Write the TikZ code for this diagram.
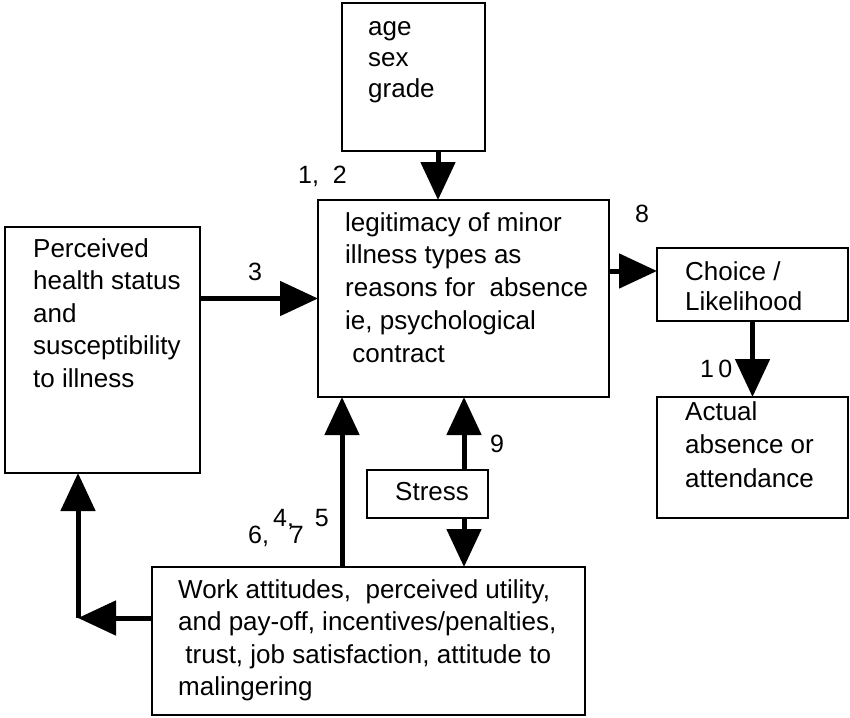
\documentclass[tikz,border=0pt]{standalone}
\usepackage{fontspec}
\setmainfont{Liberation Sans}
\usetikzlibrary{arrows.meta,calc}
\newcommand{\firstline}{\rule{0pt}{20pt}}
\begin{document}
\begin{tikzpicture}[x=1pt,y=-1pt,
  box/.style={draw, line width=2.2pt, inner sep=0pt, outer sep=0pt},
  txt/.style={anchor=north west, inner sep=0pt, align=left,
    font=\fontsize{26}{#1}\selectfont},
  txt/.default=32.5,
  num/.style={anchor=base west, inner sep=0pt, font=\fontsize{25}{30}\selectfont},
  link/.style={line width=5pt, -{Triangle[width=34pt,length=38pt]}}
]
\useasboundingbox (0,0) rectangle (850,717);

% boxes
\node[box, minimum width=143pt, minimum height=148pt] (top)    at (413.5,77)    {};
\node[box, minimum width=291pt, minimum height=197pt] (centre) at (463.5,298.5) {};
\node[box, minimum width=195pt, minimum height=246pt] (left)   at (102.5,350)   {};
\node[box, minimum width=191pt, minimum height=73pt]  (choice) at (752.5,284.5) {};
\node[box, minimum width=191pt, minimum height=121pt] (actual) at (752.5,457.5) {};
\node[box, minimum width=121pt, minimum height=48pt]  (stress) at (427.5,494)   {};
\node[box, minimum width=433pt, minimum height=148pt] (bottom) at (368.5,641)   {};

% box texts
\node[txt=31]   (ttop)    at (368,15)  {\firstline age\\sex\\grade};
\node[txt=32.7] (tcentre) at (345,211) {\firstline legitimacy of minor\\illness types as\\reasons for\ \ absence\\ie, psychological\\\ contract};
\node[txt]      (tleft)   at (33,237)  {\firstline Perceived\\health status\\and\\susceptibility\\to illness};
\node[txt=30]   (tchoice) at (685,260) {\firstline Choice /\\Likelihood};
\node[txt=33.5] (tactual) at (685,400) {\firstline Actual\\absence or\\attendance};
\node[txt]      (tstress) at (395,480) {\firstline Stress};
\node[txt=32.5] (tbottom) at (178,578) {\firstline Work attitudes,\ \ perceived utility,\\and pay-off, incentives/penalties,\\\ trust, job satisfaction, attitude to\\malingering};

% connector labels
\node[num] (n12) at (298,183) {1,\ \ 2};
\node[num] (n3)  at (248,280) {3};
\node[num] (n8)  at (635,222) {8};
\node[num] (n9)  at (490,452) {9};
\node[num] (n10) at (700,377) {1\,0};
\node[num] (n45) at (273,526) {4,\ \ \ 5};
\node[num] (n67) at (248,543) {6,\ \ \ 7};

% anchor points for the connectors
\coordinate (ptop)   at ([xshift=24.5pt]top.south);
\coordinate (pch)    at ([yshift=13.5pt]choice.west);
\coordinate (pst)    at ([xshift=36.5pt]stress.north);
\coordinate (pstb)   at ([xshift=36.5pt]stress.south);
\coordinate (pbot)   at ([xshift=-26.5pt]bottom.north);
\coordinate (kx)     at ([xshift=-24.5pt]left.south);
\coordinate (ky)     at ([yshift=23pt]bottom.west);
\coordinate (corner) at (kx |- ky);

% connectors
\draw[link] (ptop) -- (ptop |- centre.north);
\draw[link] (left.east |- centre.west) -- (centre.west);
\draw[link] (centre.east |- pch) -- (pch);
\draw[link] (choice.south) -- (actual.north);
\draw[link] (pst) -- (pst |- centre.south);
\draw[link] (pstb) -- (pstb |- bottom.north);
\draw[link] (pbot) -- (pbot |- centre.south);
\draw[link] (ky) -- (corner);
\draw[link] (corner) -- (kx);
\end{tikzpicture}
\end{document}
